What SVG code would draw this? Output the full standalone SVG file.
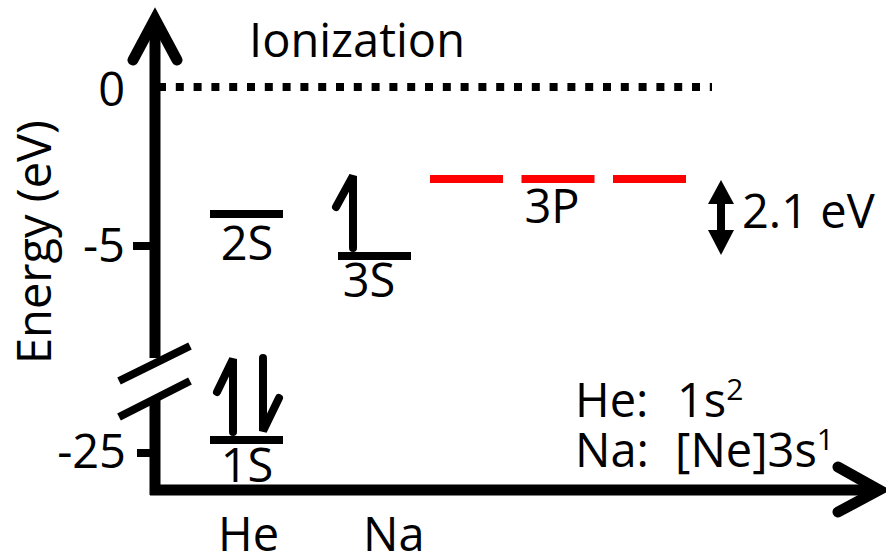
<svg xmlns="http://www.w3.org/2000/svg" width="886" height="557" viewBox="0 0 886 557">
<style>
  text { font-family: "Open Sans", "Liberation Sans", sans-serif; font-size: 47px; fill: #000; }
  .ax { stroke: #000; stroke-width: 11; fill: none; }
  .head { stroke: #000; stroke-width: 11; fill: none; stroke-linecap: round; stroke-linejoin: miter; }
  .lvl { stroke: #000; stroke-width: 8; }
  .spin { stroke: #000; stroke-width: 8; fill: none; stroke-linecap: round; stroke-linejoin: miter; }
  .mid { text-anchor: middle; }
  .end { text-anchor: end; }
</style>
<rect width="886" height="557" fill="#fff"/>
<g id="axes">
  <line class="ax" x1="155" y1="22" x2="155" y2="358"/>
  <line class="ax" x1="155" y1="398" x2="155" y2="495"/>
  <polyline class="head" points="133,60 155,19 177,60"/>
  <line class="ax" x1="150" y1="490" x2="876" y2="490"/>
  <polyline class="head" points="838,467 879,490 838,512"/>
  <line class="lvl" x1="119" y1="381" x2="190" y2="346"/>
  <line class="lvl" x1="119" y1="417" x2="190" y2="381"/>
  <line class="lvl" x1="133" y1="246" x2="155" y2="246"/>
  <line class="lvl" x1="137" y1="453" x2="155" y2="453"/>
  <text class="end" x="125" y="106">0</text>
  <text class="end" x="125" y="262">-5</text>
  <text class="end" x="126" y="468">-25</text>
  <text transform="translate(51,364) rotate(-90)">Energy (eV)</text>
</g>
<g id="ionization">
  <line x1="158" y1="87" x2="712" y2="87" stroke="#000" stroke-width="8" stroke-dasharray="8 9.8"/>
  <text x="249" y="57">Ionization</text>
</g>
<g id="he-2s">
  <line class="lvl" x1="210" y1="214" x2="283" y2="214"/>
  <text class="mid" x="247" y="260">2S</text>
</g>
<g id="na-3s">
  <line class="lvl" x1="338" y1="256" x2="411" y2="256"/>
  <polyline class="spin" points="336,207 353,176 353,248"/>
  <text class="mid" x="369" y="297">3S</text>
</g>
<g id="na-3p">
  <line x1="430" y1="179" x2="686" y2="179" stroke="#ff0000" stroke-width="8" stroke-dasharray="73 18.5"/>
  <text class="mid" x="552" y="223">3P</text>
</g>
<g id="he-1s">
  <line class="lvl" x1="210" y1="440" x2="283" y2="440"/>
  <polyline class="spin" points="217,392 233,359 233,432"/>
  <polyline class="spin" points="263,358 263,431 279,398"/>
  <text class="mid" x="247" y="482">1S</text>
</g>
<g id="gap">
  <polygon points="721,180 708,204 734,204" fill="#000"/>
  <rect x="717" y="200" width="8" height="34" fill="#000"/>
  <polygon points="721,255 708,230 734,230" fill="#000"/>
  <text x="742" y="228">2.1 eV</text>
</g>
<g id="config">
  <text x="575" y="417">He:<tspan x="677">1s</tspan><tspan font-size="30" dy="-17">2</tspan></text>
  <text x="575" y="467">Na:<tspan x="675">[Ne]3s</tspan><tspan font-size="30" dy="-17">1</tspan></text>
</g>
<g id="elements">
  <text x="218" y="551">He</text>
  <text x="363" y="551">Na</text>
</g>
</svg>
